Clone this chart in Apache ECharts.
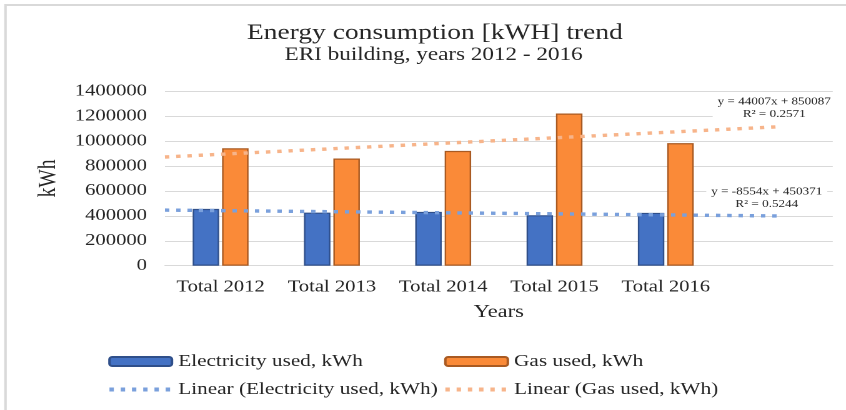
<!DOCTYPE html>
<html><head><meta charset="utf-8">
<script src="https://cdn.jsdelivr.net/npm/echarts@6/dist/echarts.min.js"></script>
<style>
html,body{margin:0;padding:0;background:#fff;overflow:hidden;width:846px;height:410px}
#wrap{width:846px;height:410px;overflow:hidden}
#chart{width:677px;height:410px;transform:scaleX(1.2496);transform-origin:0 0}
</style>
</head><body><div id="wrap"><div id="chart"></div></div>
<script>
// ---- data ----
const categories = ['Total 2012', 'Total 2013', 'Total 2014', 'Total 2015', 'Total 2016'];
const forecastSlot = [''];
const electricity = [456000, 426000, 432000, 405000, 424000];
const gas = [942000, 860000, 921000, 1221000, 983000];
const trendX = [0.5, 6];
const elecTrend = [446094, 399047];
const gasTrend = [872090, 1114129];
const yTicks = [0, 200000, 400000, 600000, 800000, 1000000, 1200000, 1400000];
const elecEquation = ['y = -8554x + 450371', 'R² = 0.5244'];
const gasEquation = ['y = 44007x + 850087', 'R² = 0.2571'];
const seriesNames = ['Electricity used, kWh', 'Gas used, kWh', 'Linear (Electricity used, kWh)', 'Linear (Gas used, kWh)'];

const FONT = 'Liberation Serif';
const TXT = '#262626';
const chart = echarts.init(document.getElementById('chart'), null, {renderer: 'canvas', devicePixelRatio: 2});

function eqText(lines, cx, y0) {
  return {
    type: 'text', x: cx, y: y0, silent: true, z: 10,
    style: {text: lines.join('\n'), fill: TXT, font: '10.5px "' + FONT + '"', lineHeight: 12.4,
            align: 'center', verticalAlign: 'top', backgroundColor: '#fff', padding: [1, 4, 1, 4]}
  };
}

const legendBase = {orient: 'vertical', top: 353, itemGap: 11, itemWidth: 50, itemHeight: 9, padding: 0,
  textStyle: {fontSize: 17, color: TXT, fontFamily: FONT}};

const option = {
  animation: false,
  backgroundColor: '#fff',
  textStyle: {fontFamily: FONT},
  graphic: [
    {type: 'rect', shape: {x: 4.4, y: 5, width: 800, height: 460}, style: {fill: 'none', stroke: '#d9d9d9', lineWidth: 2}, silent: true},
    {type: 'text', x: 348, y: 33, style: {text: 'Energy consumption [kWH] trend', fill: TXT, font: '22px "' + FONT + '"', align: 'center', verticalAlign: 'middle'}},
    {type: 'text', x: 347, y: 55, style: {text: 'ERI building, years 2012 - 2016', fill: TXT, font: '18.5px "' + FONT + '"', align: 'center', verticalAlign: 'middle'}},
    eqText(gasEquation, 619.6, 94.5),
    eqText(elecEquation, 613.6, 184.5)
  ],
  legend: [
    Object.assign({}, legendBase, {left: 85.6,
      data: [seriesNames[0], {name: seriesNames[2], itemStyle: {opacity: 0}, lineStyle: {width: 4}}]}),
    Object.assign({}, legendBase, {left: 354.4,
      data: [seriesNames[1], {name: seriesNames[3], itemStyle: {opacity: 0}, lineStyle: {width: 4}}]})
  ],
  grid: {left: 132, right: 10.6, top: 91.2, bottom: 144.3},
  xAxis: [
    {type: 'category', data: categories.concat(forecastSlot),
     axisLine: {lineStyle: {color: '#d9d9d9', width: 1}}, axisTick: {show: false},
     axisLabel: {fontSize: 16.5, color: TXT, margin: 13, interval: 0, fontFamily: FONT},
     name: 'Years', nameLocation: 'middle', nameGap: 37.5,
     nameTextStyle: {fontSize: 18, color: TXT, fontFamily: FONT}},
    {type: 'value', min: 0.5, max: 6.5, show: false}
  ],
  yAxis: {
    type: 'value', min: yTicks[0], max: yTicks[yTicks.length - 1], interval: yTicks[1] - yTicks[0],
    splitLine: {lineStyle: {color: '#d9d9d9', width: 1}},
    axisLine: {show: false}, axisTick: {show: false},
    axisLabel: {fontSize: 16.5, color: TXT, margin: 14.4, fontFamily: FONT, formatter: v => String(v)},
    name: 'kWh', nameLocation: 'middle', nameGap: 75,
    nameTextStyle: {fontSize: 19.5, color: TXT, fontFamily: FONT}
  },
  series: [
    {name: seriesNames[0], type: 'bar', data: electricity, barWidth: 21.2, barGap: '11%',
     itemStyle: {color: '#4472c4', borderColor: '#2f4f8a', borderWidth: 1.2}},
    {name: seriesNames[1], type: 'bar', data: gas, barWidth: 21.2, barGap: '11%',
     itemStyle: {color: '#fa8a38', borderColor: '#a95a22', borderWidth: 1.2}},
    {name: seriesNames[2], type: 'line', xAxisIndex: 1, symbol: 'none',
     data: trendX.map((x, i) => [x, elecTrend[i]]),
     lineStyle: {color: '#7aa0dc', width: 3.4, type: [3.5, 5.5], cap: 'butt'}, itemStyle: {color: '#7aa0dc'}},
    {name: seriesNames[3], type: 'line', xAxisIndex: 1, symbol: 'none',
     data: trendX.map((x, i) => [x, gasTrend[i]]),
     lineStyle: {color: '#f7b48a', width: 3.4, type: [3.5, 5.5], cap: 'butt'}, itemStyle: {color: '#f7b48a'}}
  ]
};
chart.setOption(option);
</script>
</body></html>
